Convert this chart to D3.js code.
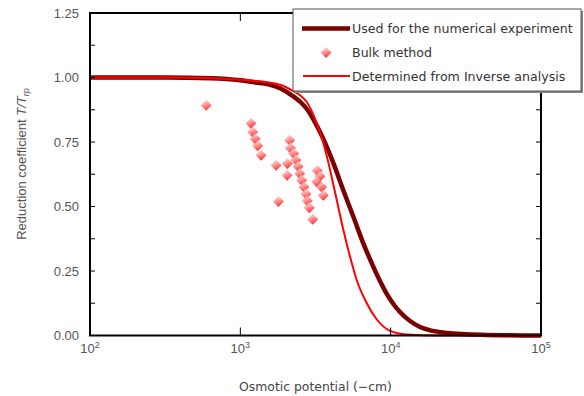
<!DOCTYPE html>
<html>
<head>
<meta charset="utf-8">
<script src="https://cdn.jsdelivr.net/npm/d3@7"></script>
<style>
  body { margin: 0; background: #fff; }
  svg { display: block; }
</style>
</head>
<body>
<svg id="chart" width="584" height="396"></svg>
<script>
// curve used for the numerical experiment
const usedPotential = [100, 316, 631, 1000, 1259, 1585, 1837, 2138, 2512, 2818, 3062, 3565, 4159, 4842, 5649, 6577, 7674, 8492, 9419, 10423, 11535, 13459, 15668, 23605, 39811, 100000];
const usedCoef = [1.0, 1.0, 0.997, 0.989, 0.981, 0.972, 0.958, 0.936, 0.905, 0.872, 0.838, 0.762, 0.668, 0.563, 0.46, 0.357, 0.266, 0.211, 0.161, 0.122, 0.091, 0.056, 0.033, 0.01, 0.003, 0.0];

// curve determined from inverse analysis
const invPotential = [100, 398, 1096, 1837, 2254, 2512, 2767, 3221, 3565, 3954, 4375, 4842, 5370, 5943, 6934, 8091, 9908, 12794, 19953, 100000];
const invCoef = [1.0, 1.0, 0.99, 0.972, 0.947, 0.93, 0.905, 0.823, 0.746, 0.642, 0.526, 0.41, 0.305, 0.215, 0.125, 0.062, 0.018, 0.004, 0.0, 0.0];

// bulk method points
const bulkPotential = [593, 1178, 1208, 1253, 1303, 1374, 1730, 1791, 2128, 2153, 2265, 2056, 2046, 2339, 2421, 2483, 2559, 2649, 2735, 2786, 2877, 3027, 3251, 3388, 3221, 3475, 3565];
const bulkCoef = [0.892, 0.823, 0.789, 0.763, 0.735, 0.699, 0.66, 0.519, 0.757, 0.727, 0.705, 0.667, 0.621, 0.68, 0.655, 0.628, 0.602, 0.576, 0.548, 0.522, 0.495, 0.451, 0.64, 0.617, 0.596, 0.576, 0.544];

const yTicks = [0, 0.25, 0.5, 0.75, 1.0, 1.25];
const xTicks = [1e2, 1e3, 1e4, 1e5];
const legendLabels = ["Used for the numerical experiment", "Bulk method", "Determined from Inverse analysis"];

const svg = d3.select("#chart");
const plotL = 90, plotR = 541, plotT = 13, plotB = 335.5;

const x = d3.scaleLog().domain([1e2, 1e5]).range([plotL, plotR]);
const y = d3.scaleLinear().domain([0, 1.25]).range([plotB, plotT]);

const defs = svg.append("defs");
const grad = defs.append("linearGradient")
  .attr("id", "dia").attr("x1", 0).attr("y1", 0).attr("x2", 0.4).attr("y2", 1);
grad.append("stop").attr("offset", "0%").attr("stop-color", "#ffe4e4");
grad.append("stop").attr("offset", "45%").attr("stop-color", "#ff9a9a");
grad.append("stop").attr("offset", "100%").attr("stop-color", "#ff1010");

const diamond = "M0,-5.5L5.5,0L0,5.5L-5.5,0Z";

// curves
const line = d3.line()
  .x(d => x(d[0]))
  .y(d => y(d[1]))
  .curve(d3.curveMonotoneX);

svg.append("path")
  .datum(d3.zip(usedPotential, usedCoef))
  .attr("fill", "none")
  .attr("stroke", "#7a0000")
  .attr("stroke-width", 4.5)
  .attr("stroke-linejoin", "round")
  .attr("d", line);

svg.append("path")
  .datum(d3.zip(invPotential, invCoef))
  .attr("fill", "none")
  .attr("stroke", "#ff0000")
  .attr("stroke-width", 2)
  .attr("d", line);

// bulk method
svg.append("g").selectAll("path")
  .data(d3.zip(bulkPotential, bulkCoef))
  .join("path")
  .attr("transform", d => "translate(" + x(d[0]) + "," + y(d[1]) + ")")
  .attr("d", diamond)
  .attr("fill", "url(#dia)")
  .attr("opacity", 0.85);

// frame + ticks
const frame = svg.append("g").attr("stroke", "#000").attr("fill", "none");
frame.append("rect")
  .attr("x", plotL).attr("y", plotT)
  .attr("width", plotR - plotL).attr("height", plotB - plotT)
  .attr("stroke-width", 2);

const yMinor = d3.range(0, 1.2501, 0.125);
frame.selectAll(".yl").data(yMinor).join("line")
  .attr("x1", plotL).attr("x2", plotL + 5)
  .attr("y1", d => y(d)).attr("y2", d => y(d));
frame.selectAll(".yr").data(yMinor).join("line")
  .attr("x1", plotR).attr("x2", plotR - 5)
  .attr("y1", d => y(d)).attr("y2", d => y(d));
frame.selectAll(".xb").data(xTicks.slice(1, -1)).join("line")
  .attr("x1", d => x(d)).attr("x2", d => x(d))
  .attr("y1", plotB).attr("y2", plotB - 8);
frame.selectAll(".xt").data(xTicks.slice(1, -1)).join("line")
  .attr("x1", d => x(d)).attr("x2", d => x(d))
  .attr("y1", plotT).attr("y2", plotT + 8);

// tick labels
svg.append("g").selectAll("text").data(yTicks).join("text")
  .attr("x", 79).attr("y", d => y(d) + 4.5)
  .attr("text-anchor", "end")
  .attr("font-family", "Liberation Sans, Arial, sans-serif")
  .attr("font-size", 13)
  .attr("fill", "#555")
  .text(d => d.toFixed(2));

const xl = svg.append("g").selectAll("text").data(xTicks).join("text")
  .attr("x", d => x(d)).attr("y", 353)
  .attr("text-anchor", "middle")
  .attr("font-family", "Liberation Sans, Arial, sans-serif")
  .attr("font-size", 13)
  .attr("fill", "#555");
xl.append("tspan").text("10");
xl.append("tspan").attr("dy", -5).attr("font-size", 9).text(d => Math.round(Math.log10(d)));

// axis titles
svg.append("text")
  .attr("x", (plotL + plotR) / 2).attr("y", 391)
  .attr("text-anchor", "middle")
  .attr("font-family", "DejaVu Sans, sans-serif")
  .attr("font-size", 12.4)
  .attr("fill", "#444")
  .text("Osmotic potential (\u2212cm)");

const yt = svg.append("text")
  .attr("transform", "translate(26,164) rotate(-90)")
  .attr("text-anchor", "middle")
  .attr("font-family", "Liberation Sans, Arial, sans-serif")
  .attr("font-size", 13)
  .attr("fill", "#555");
yt.append("tspan").text("Reduction coefficient ");
yt.append("tspan").attr("font-style", "italic").text("T/T");
yt.append("tspan").attr("font-style", "italic").attr("font-size", 9).attr("dy", 3).text("rp");

// legend
const lg = svg.append("g");
lg.append("rect").attr("x", 295).attr("y", 11).attr("width", 288).attr("height", 82).attr("fill", "#888");
lg.append("rect").attr("x", 293).attr("y", 9).attr("width", 288).attr("height", 82)
  .attr("fill", "#fff").attr("stroke", "#555").attr("stroke-width", 1);

const rows = [28.5, 52.5, 76];
lg.append("line").attr("x1", 302).attr("x2", 350).attr("y1", rows[0]).attr("y2", rows[0])
  .attr("stroke", "#7a0000").attr("stroke-width", 4.5);
lg.append("path").attr("transform", "translate(326," + rows[1] + ")")
  .attr("d", diamond).attr("fill", "url(#dia)").attr("opacity", 0.85);
lg.append("line").attr("x1", 303).attr("x2", 350).attr("y1", rows[2]).attr("y2", rows[2])
  .attr("stroke", "#ff0000").attr("stroke-width", 2);

lg.selectAll("text").data(legendLabels).join("text")
  .attr("x", 352).attr("y", (d, i) => rows[i] + 4.5)
  .attr("font-family", "DejaVu Sans, sans-serif")
  .attr("font-size", 12.6)
  .attr("fill", "#333")
  .text(d => d);
</script>
</body>
</html>
